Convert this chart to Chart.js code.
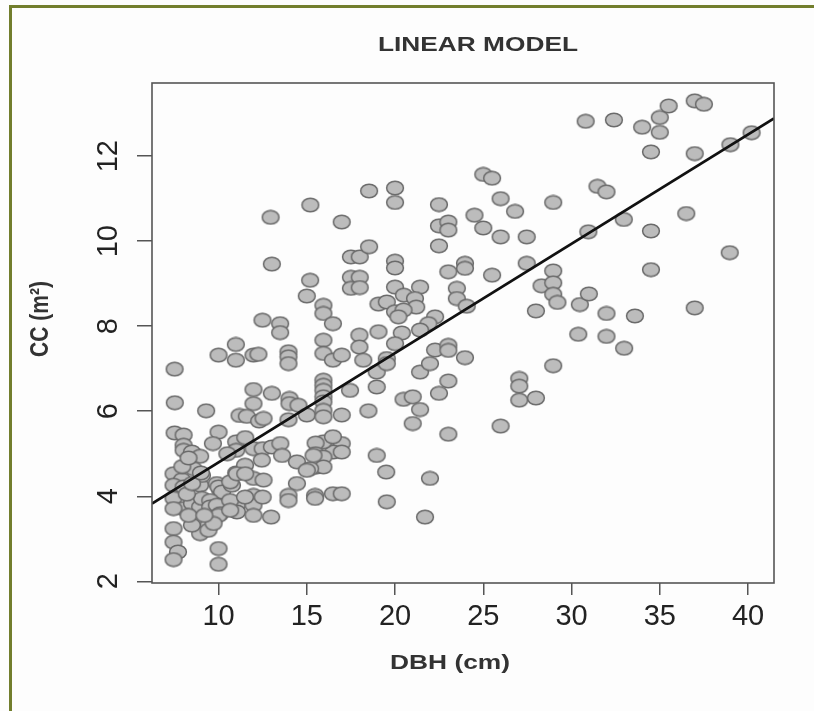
<!DOCTYPE html>
<html><head><meta charset="utf-8">
<script src="https://cdn.jsdelivr.net/npm/chart.js@4.4.1/dist/chart.umd.min.js"></script>
<style>
html,body{margin:0;padding:0;background:#fdfdfd;width:814px;height:711px;overflow:hidden}
#frame{position:absolute;left:9px;top:5px;width:805px;height:706px;border-left:3px solid #727e2d;border-top:3px solid #727e2d;box-sizing:border-box}
#wrap{position:absolute;left:0;top:0;width:814px;height:711px}
</style></head><body>
<div id="frame"></div>
<div id="wrap"><canvas id="c" width="814" height="711"></canvas></div>
<script>
// ---- data ----
const dbh = [
 7.51,7.52,7.51,8.02,8.02,8.02,8.49,8.96,10.00,9.68,9.30,8.58,7.45,7.93,7.45,8.96,9.06,8.02,10.10,9.90,10.00,10.20,
 7.45,8.02,7.45,8.49,8.96,9.06,9.53,9.53,9.90,10.10,10.00,9.43,8.96,8.49,9.43,9.72,7.45,7.45,7.70,7.45,10.00,10.00,
 10.00,8.20,8.50,9.00,8.30,9.20,7.95,8.30,
 10.98,10.98,11.98,12.26,12.49,13.49,13.49,13.02,12.95,13.96,13.96,13.96,11.98,13.02,11.98,11.19,11.60,12.30,12.55,
 11.00,11.51,11.00,10.50,11.98,12.50,12.45,13.02,13.50,13.60,11.00,11.50,11.98,12.55,10.76,10.66,11.04,11.51,
 11.04,11.04,10.66,10.66,11.98,11.98,11.98,12.50,12.98,11.50,
 14.02,14.02,14.53,15.00,13.96,15.94,15.94,15.94,15.94,15.94,15.94,15.94,15.94,15.94,16.48,15.94,15.94,16.48,16.98,
 15.19,15.00,15.20,16.98,16.98,16.50,16.98,16.50,16.98,15.94,15.50,15.50,15.94,15.57,15.94,16.48,14.44,15.19,14.44,
 15.00,15.38,13.96,13.96,15.47,15.47,16.48,16.98,
 17.98,17.98,18.20,18.49,18.96,19.50,19.53,18.96,18.96,17.45,17.50,18.00,17.50,18.00,17.50,18.00,18.53,20.00,20.00,
 22.49,25.00,25.50,25.98,26.80,24.50,22.49,23.02,23.02,25.00,25.98,27.46,22.49,18.53,20.00,20.00,23.02,23.96,23.96,
 25.50,27.46,20.00,20.50,21.42,21.13,21.20,19.06,19.53,20.00,20.48,20.19,23.50,23.50,24.06,22.27,21.89,21.42,20.38,
 19.06,20.00,19.53,19.53,21.42,21.98,22.27,23.02,23.02,23.96,23.02,22.49,20.48,21.00,21.42,21.00,23.02,25.98,27.04,
 27.04,27.04,21.98,21.70,
 30.80,32.40,34.00,35.00,35.50,35.00,36.98,37.50,34.50,36.98,39.00,40.20,31.47,31.98,28.96,36.50,32.96,30.95,34.50,
 38.96,28.96,34.50,28.30,28.96,28.96,29.20,27.98,30.47,30.98,31.98,33.59,36.98,30.38,31.98,32.98,28.96,27.98
];
const cc = [
 6.99,6.20,5.49,5.44,5.20,5.08,5.04,4.94,5.51,5.24,6.01,4.65,4.53,4.39,4.26,4.26,4.49,4.22,4.14,4.30,4.22,4.10,
 3.95,3.71,3.71,3.83,3.75,3.95,3.90,3.75,3.79,3.59,3.55,3.32,3.12,3.32,3.20,3.36,3.24,2.92,2.69,2.51,2.77,2.40,
 7.32,4.05,4.30,4.55,3.55,3.55,4.70,4.90,
 7.57,7.20,7.32,7.34,8.14,8.06,7.85,9.46,10.56,7.40,7.28,7.12,6.51,6.42,6.18,5.90,5.88,5.77,5.83,
 5.28,5.38,5.08,5.00,5.12,5.12,4.85,5.16,5.24,4.96,4.55,4.73,4.42,4.38,4.26,4.34,4.53,4.53,
 3.79,3.63,3.90,3.67,4.02,3.79,3.55,3.98,3.51,3.98,
 6.30,6.18,6.14,5.91,5.80,6.73,6.61,6.49,6.34,6.22,6.02,5.87,8.49,8.30,8.06,7.67,7.36,7.20,7.32,
 9.08,8.71,10.85,10.45,5.91,5.32,5.24,5.04,5.04,5.28,5.25,5.00,4.92,4.69,4.69,5.40,4.81,4.65,4.30,
 4.61,4.96,4.02,3.90,4.02,3.95,4.06,4.06,
 7.79,7.51,7.20,6.01,4.96,4.57,3.87,6.92,6.57,6.49,9.63,9.63,9.15,9.15,8.89,8.91,11.18,11.25,10.91,
 10.86,11.57,11.48,11.00,10.70,10.61,10.36,10.45,10.26,10.31,10.10,10.10,9.89,9.87,9.53,9.37,9.28,9.48,9.36,
 9.20,9.48,8.92,8.73,8.92,8.65,8.45,8.52,8.57,8.34,8.38,8.22,8.89,8.65,8.47,8.22,8.06,7.91,7.84,
 7.87,7.59,7.24,7.12,6.92,7.12,7.44,7.55,7.43,7.26,6.71,6.42,6.28,6.34,6.04,5.71,5.46,5.65,6.77,
 6.59,6.26,4.42,3.51,
 12.82,12.85,12.68,12.91,13.18,12.56,13.30,13.22,12.10,12.06,12.27,12.55,11.29,11.16,10.91,10.65,10.51,10.22,10.24,
 9.73,9.30,9.33,8.95,9.02,8.75,8.56,8.36,8.51,8.76,8.30,8.24,8.43,7.81,7.76,7.48,7.07,6.31
];
// fitted line end points, read where it meets the plot frame
const fitX = [6.23, 41.47];
const fitY = [3.83, 12.89];
const xTicks = [10, 15, 20, 25, 30, 35, 40];
const yTicks = [2, 4, 6, 8, 10, 12];
const chartTitle = 'LINEAR MODEL';
const xTitle = 'DBH (cm)';
const yTitle = 'CC (m²)';

// ---- drawing ----
function marker() {
  const c = document.createElement('canvas');
  c.width = 20; c.height = 16;
  const g = c.getContext('2d');
  g.beginPath();
  g.ellipse(10, 8, 8.4, 6.8, 0, 0, Math.PI * 2);
  g.fillStyle = '#bcbcbc';
  g.fill();
  g.lineWidth = 1.5;
  g.strokeStyle = '#6a6a6a';
  g.stroke();
  return c;
}
const pts = dbh.map((x, i) => ({x: x, y: cc[i]}));
const fitPts = fitX.map((x, i) => ({x: x, y: fitY[i]}));

const frameAndText = {
  id: 'frameAndText',
  afterDatasetsDraw(chart) {
    const {ctx, chartArea: a} = chart;
    ctx.save();
    ctx.strokeStyle = '#555';
    ctx.lineWidth = 1.6;
    ctx.strokeRect(a.left, a.top, a.right - a.left, a.bottom - a.top);
    ctx.restore();
  },
  afterDraw(chart) {
    const ctx = chart.ctx;
    const draw = (txt, cx, cy, targetW, rot, sx) => {
      ctx.save();
      ctx.font = 'bold 21px "Liberation Sans", Arial, sans-serif';
      ctx.fillStyle = '#333';
      ctx.textAlign = 'center';
      ctx.textBaseline = 'middle';
      ctx.translate(cx, cy);
      ctx.rotate(rot);
      const w = ctx.measureText(txt).width;
      if (rot === 0) ctx.scale(targetW / w, 1); else ctx.scale(1, sx);
      ctx.fillText(txt, 0, 0);
      ctx.restore();
    };
    draw(chartTitle, 478, 45, 200, 0);
    draw(xTitle, 450, 663, 120, 0);
    draw(yTitle, 41, 319, 0, -Math.PI / 2, 1.2);
  }
};

new Chart(document.getElementById('c'), {
  type: 'scatter',
  data: {
    datasets: [
      {type: 'line', data: fitPts, borderColor: '#111', borderWidth: 2.7, pointRadius: 0, fill: false, tension: 0},
      {type: 'scatter', data: pts, pointStyle: marker(), pointRadius: 8}
    ]
  },
  options: {
    responsive: false,
    animation: false,
    events: [],
    layout: {padding: {top: 83, right: 40, left: 0, bottom: 0}},
    plugins: {legend: {display: false}, title: {display: false}, tooltip: {enabled: false}},
    scales: {
      x: {
        type: 'linear', min: 6.23, max: 41.47,
        afterBuildTicks: s => { s.ticks = xTicks.map(v => ({value: v})); },
        afterFit: s => { s.height = 128; },
        border: {display: false},
        grid: {drawOnChartArea: false, drawTicks: true, tickLength: 12, color: '#555', lineWidth: 1.5},
        ticks: {font: {family: '"Liberation Sans", Arial, sans-serif', size: 29}, color: '#222', padding: 5, maxRotation: 0, autoSkip: false}
      },
      y: {
        type: 'linear', min: 1.96, max: 13.72,
        afterBuildTicks: s => { s.ticks = yTicks.map(v => ({value: v})); },
        afterFit: s => { s.width = 152; },
        border: {display: false},
        grid: {drawOnChartArea: false, drawTicks: true, tickLength: 15, color: '#555', lineWidth: 1.5},
        ticks: {font: {family: '"Liberation Sans Narrow", "Liberation Sans", Arial, sans-serif', size: 29}, color: '#222',
                padding: 12, minRotation: 90, maxRotation: 90, crossAlign: 'center', autoSkip: false}
      }
    }
  },
  plugins: [frameAndText]
});
</script>
</body></html>
